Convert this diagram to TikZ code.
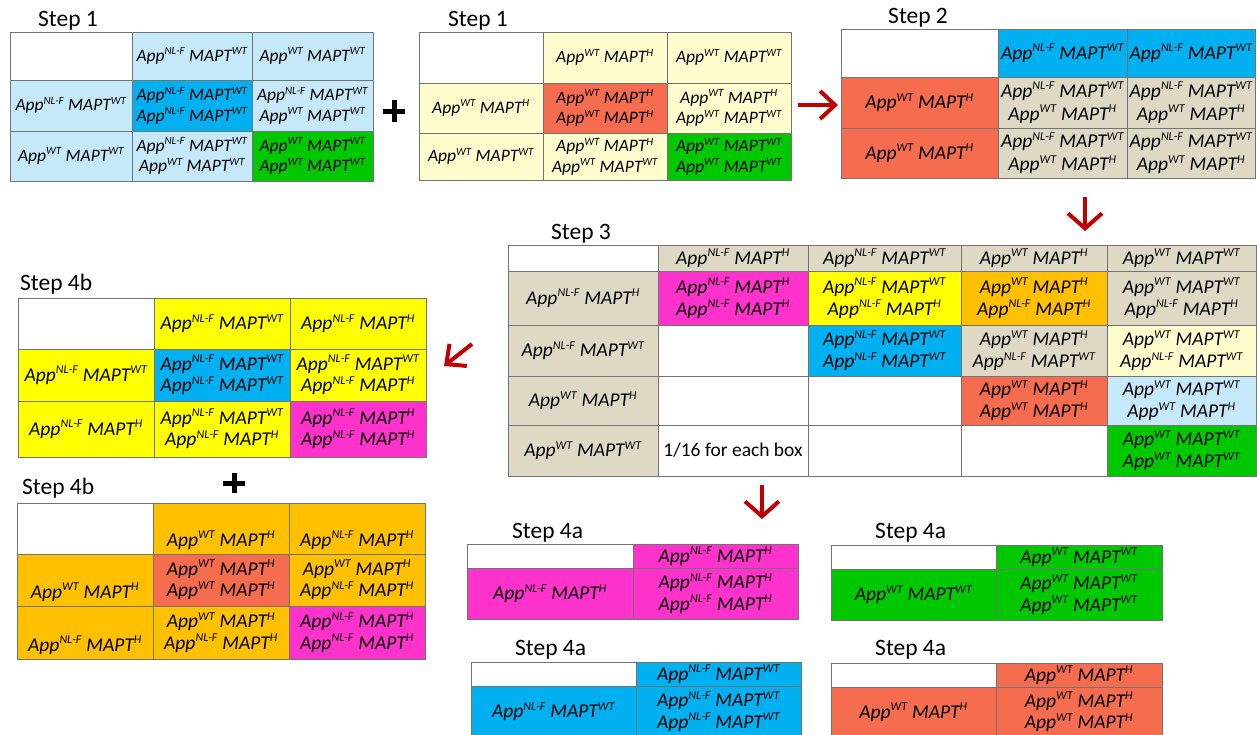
\documentclass[tikz,border=0pt]{standalone}
\usepackage{fontspec}
\setmainfont{Carlito}
\usetikzlibrary{calc,arrows.meta}
\definecolor{lblue}{RGB}{198,233,250}
\definecolor{mblue}{RGB}{0,176,240}
\definecolor{mgreen}{RGB}{0,200,0}
\definecolor{lyel}{RGB}{255,252,206}
\definecolor{csal}{RGB}{245,108,78}
\definecolor{ctan}{RGB}{221,217,196}
\definecolor{cpink}{RGB}{255,51,204}
\definecolor{yel}{RGB}{255,255,0}
\definecolor{orng}{RGB}{255,192,0}
\definecolor{dred}{RGB}{192,0,0}
\definecolor{gline}{RGB}{115,115,115}
\newcommand\fsz{\fontsize{17.5}{20.5}\selectfont}
\newcommand\ssz{\fontsize{11}{11}\selectfont}
\newcommand\sups[1]{\textsuperscript{\ssz #1}}
\newcommand\gen[2]{App\sups{#1} MAPT\sups{#2}}
\newcommand\gcell[7]{\draw[cellb,fill=#6] (#2,#3) rectangle (#4,#5);
  \node[txt] (#1) at ($(#2,#3)!.5!(#4,#5)$) {#7};}
\newcommand\gcellbot[7]{\draw[cellb,fill=#6] (#2,#3) rectangle (#4,#5);
  \node[txt,anchor=base] (#1) at ($(#2,#5)!.5!(#4,#5)+(0,-8)$) {#7};}
\tikzset{
  cellb/.style={draw=gline, line width=1pt},
  txt/.style={align=center, inner sep=0pt, font=\fsz\itshape},
  steplabel/.style={anchor=base west, inner sep=0pt, font=\fontsize{23.5}{27}\selectfont},
  redarrow/.style={draw=dred, line width=4pt, -{Straight Barb[length=15pt,width=28pt]}},
  downarrow/.style={draw=dred, line width=4pt, -{Straight Barb[length=15pt,width=34pt]}},
  plusmark/.style={draw=black, line width=5pt}
}
\begin{document}
\begin{tikzpicture}[x=1pt,y=-1pt]
\useasboundingbox (0,0) rectangle (1257,734);
\clip (0,0) rectangle (1257,734);
\fill[white] (0,0) rectangle (1257,734);

% ---------- Step 1 (left)
\node[steplabel] (l1) at (38,26) {Step 1};
\gcell{g1a}{10}{32}{132}{80}{white}{}
\gcell{g1b}{132}{32}{252}{80}{lblue}{\gen{NL-F}{WT}}
\gcell{g1c}{252}{32}{373}{80}{lblue}{\gen{WT}{WT}}
\gcell{g1d}{10}{80}{132}{131}{lblue}{\gen{NL-F}{WT}}
\gcell{g1e}{132}{80}{252}{131}{mblue}{\gen{NL-F}{WT}\\\gen{NL-F}{WT}}
\gcell{g1f}{252}{80}{373}{131}{lblue}{\gen{NL-F}{WT}\\\gen{WT}{WT}}
\gcell{g1g}{10}{131}{132}{181}{lblue}{\gen{WT}{WT}}
\gcell{g1h}{132}{131}{252}{181}{lblue}{\gen{NL-F}{WT}\\\gen{WT}{WT}}
\gcell{g1i}{252}{131}{373}{181}{mgreen}{\gen{WT}{WT}\\\gen{WT}{WT}}

\coordinate (p1) at (394,111);
\draw[plusmark] ($(p1)+(-11,0)$) -- ($(p1)+(11,0)$) ($(p1)+(0,-11)$) -- ($(p1)+(0,11)$);

% ---------- Step 1 (middle)
\node[steplabel] (l2) at (448,26) {Step 1};
\gcell{g2a}{419}{32}{543}{83}{white}{}
\gcell{g2b}{543}{32}{667}{83}{lyel}{\gen{WT}{H}}
\gcell{g2c}{667}{32}{791}{83}{lyel}{\gen{WT}{WT}}
\gcell{g2d}{419}{83}{543}{133}{lyel}{\gen{WT}{H}}
\gcell{g2e}{543}{83}{667}{133}{csal}{\gen{WT}{H}\\\gen{WT}{H}}
\gcell{g2f}{667}{83}{791}{133}{lyel}{\gen{WT}{H}\\\gen{WT}{WT}}
\gcell{g2g}{419}{133}{543}{180}{lyel}{\gen{WT}{WT}}
\gcell{g2h}{543}{133}{667}{180}{lyel}{\gen{WT}{H}\\\gen{WT}{WT}}
\gcell{g2i}{667}{133}{791}{180}{mgreen}{\gen{WT}{WT}\\\gen{WT}{WT}}

\coordinate (a1s) at (798,105);
\coordinate (a1e) at (838,105);
\draw[redarrow] (a1s) -- (a1e);

% ---------- Step 2
\renewcommand\fsz{\fontsize{19.5}{23}\selectfont}
\renewcommand\ssz{\fontsize{12}{12}\selectfont}
\node[steplabel] (l3) at (888,23) {Step 2};
\gcell{g3a}{841}{29}{998}{77}{white}{}
\gcell{g3b}{998}{29}{1127}{77}{mblue}{\gen{NL-F}{WT}}
\gcell{g3c}{1127}{29}{1255}{77}{mblue}{\gen{NL-F}{WT}}
\gcell{g3d}{841}{77}{998}{128}{csal}{\gen{WT}{H}}
\gcell{g3e}{998}{77}{1127}{128}{ctan}{\gen{NL-F}{WT}\\\gen{WT}{H}}
\gcell{g3f}{1127}{77}{1255}{128}{ctan}{\gen{NL-F}{WT}\\\gen{WT}{H}}
\gcell{g3g}{841}{128}{998}{178}{csal}{\gen{WT}{H}}
\gcell{g3h}{998}{128}{1127}{178}{ctan}{\gen{NL-F}{WT}\\\gen{WT}{H}}
\gcell{g3i}{1127}{128}{1255}{178}{ctan}{\gen{NL-F}{WT}\\\gen{WT}{H}}

\coordinate (a2s) at (1085,197);
\coordinate (a2e) at (1085,231);
\draw[downarrow] (a2s) -- (a2e);

% ---------- Step 3
\renewcommand\fsz{\fontsize{19.5}{22}\selectfont}
\node[steplabel] (l4) at (551,239) {Step 3};
\gcell{g4a}{508}{245}{658}{271}{white}{}
\gcell{g4b}{658}{245}{808}{271}{ctan}{\gen{NL-F}{H}}
\gcell{g4c}{808}{245}{961}{271}{ctan}{\gen{NL-F}{WT}}
\gcell{g4d}{961}{245}{1107}{271}{ctan}{\gen{WT}{H}}
\gcell{g4e}{1107}{245}{1256}{271}{ctan}{\gen{WT}{WT}}
\gcell{g4f}{508}{271}{658}{325}{ctan}{\gen{NL-F}{H}}
\gcell{g4g}{658}{271}{808}{325}{cpink}{\gen{NL-F}{H}\\\gen{NL-F}{H}}
\gcell{g4h}{808}{271}{961}{325}{yel}{\gen{NL-F}{WT}\\\gen{NL-F}{H}}
\gcell{g4i}{961}{271}{1107}{325}{orng}{\gen{WT}{H}\\\gen{NL-F}{H}}
\gcell{g4j}{1107}{271}{1256}{325}{ctan}{\gen{WT}{WT}\\\gen{NL-F}{H}}
\gcell{g4k}{508}{325}{658}{376}{ctan}{\gen{NL-F}{WT}}
\gcell{g4l}{658}{325}{808}{376}{white}{}
\gcell{g4m}{808}{325}{961}{376}{mblue}{\gen{NL-F}{WT}\\\gen{NL-F}{WT}}
\gcell{g4n}{961}{325}{1107}{376}{ctan}{\gen{WT}{H}\\\gen{NL-F}{WT}}
\gcell{g4o}{1107}{325}{1256}{376}{lyel}{\gen{WT}{WT}\\\gen{NL-F}{WT}}
\gcell{g4p}{508}{376}{658}{425}{ctan}{\gen{WT}{H}}
\gcell{g4q}{658}{376}{808}{425}{white}{}
\gcell{g4r}{808}{376}{961}{425}{white}{}
\gcell{g4s}{961}{376}{1107}{425}{csal}{\gen{WT}{H}\\\gen{WT}{H}}
\gcell{g4t}{1107}{376}{1256}{425}{lblue}{\gen{WT}{WT}\\\gen{WT}{H}}
\gcell{g4u}{508}{425}{658}{476}{ctan}{\gen{WT}{WT}}
\gcell{g4v}{658}{425}{808}{476}{white}{\upshape 1/16 for each box}
\gcell{g4w}{808}{425}{961}{476}{white}{}
\gcell{g4x}{961}{425}{1107}{476}{white}{}
\gcell{g4y}{1107}{425}{1256}{476}{mgreen}{\gen{WT}{WT}\\\gen{WT}{WT}}

\coordinate (a3s) at (472,344);
\coordinate (a3e) at (444,366);
\draw[redarrow] (a3s) -- (a3e);
\coordinate (a4s) at (762,485);
\coordinate (a4e) at (762,519);
\draw[downarrow] (a4s) -- (a4e);

% ---------- Step 4b (top)
\renewcommand\fsz{\fontsize{19.5}{21.5}\selectfont}
\node[steplabel] (l5) at (20,290) {Step 4b};
\gcell{g5a}{18}{298}{154}{349}{white}{}
\gcell{g5b}{154}{298}{290}{349}{yel}{\gen{NL-F}{WT}}
\gcell{g5c}{290}{298}{426}{349}{yel}{\gen{NL-F}{H}}
\gcell{g5d}{18}{349}{154}{401}{yel}{\gen{NL-F}{WT}}
\gcell{g5e}{154}{349}{290}{401}{mblue}{\gen{NL-F}{WT}\\\gen{NL-F}{WT}}
\gcell{g5f}{290}{349}{426}{401}{yel}{\gen{NL-F}{WT}\\\gen{NL-F}{H}}
\gcell{g5g}{18}{401}{154}{457}{yel}{\gen{NL-F}{H}}
\gcell{g5h}{154}{401}{290}{457}{yel}{\gen{NL-F}{WT}\\\gen{NL-F}{H}}
\gcell{g5i}{290}{401}{426}{457}{cpink}{\gen{NL-F}{H}\\\gen{NL-F}{H}}

\coordinate (p2) at (234,483);
\draw[plusmark] ($(p2)+(-11,0)$) -- ($(p2)+(11,0)$) ($(p2)+(0,-10)$) -- ($(p2)+(0,10)$);

% ---------- Step 4b (bottom)
\node[steplabel] (l6) at (22,494) {Step 4b};
\gcell{g6a}{17}{503}{153}{554}{white}{}
\gcellbot{g6b}{153}{503}{289}{554}{orng}{\gen{WT}{H}}
\gcellbot{g6c}{289}{503}{425}{554}{orng}{\gen{NL-F}{H}}
\gcellbot{g6d}{17}{554}{153}{606}{orng}{\gen{WT}{H}}
\gcell{g6e}{153}{554}{289}{606}{csal}{\gen{WT}{H}\\\gen{WT}{H}}
\gcell{g6f}{289}{554}{425}{606}{orng}{\gen{WT}{H}\\\gen{NL-F}{H}}
\gcellbot{g6g}{17}{606}{153}{659}{orng}{\gen{NL-F}{H}}
\gcell{g6h}{153}{606}{289}{659}{orng}{\gen{WT}{H}\\\gen{NL-F}{H}}
\gcell{g6i}{289}{606}{425}{659}{cpink}{\gen{NL-F}{H}\\\gen{NL-F}{H}}

% ---------- Step 4a (four small grids)
\node[steplabel] (l7) at (512,538) {Step 4a};
\gcell{g7a}{467}{544}{633}{568}{white}{}
\gcell{g7b}{633}{544}{798}{568}{cpink}{\gen{NL-F}{H}}
\gcell{g7c}{467}{568}{633}{619}{cpink}{\gen{NL-F}{H}}
\gcell{g7d}{633}{568}{798}{619}{cpink}{\gen{NL-F}{H}\\\gen{NL-F}{H}}

\node[steplabel] (l8) at (515,655) {Step 4a};
\gcell{g8a}{471}{662}{636}{686}{white}{}
\gcell{g8b}{636}{662}{801}{686}{mblue}{\gen{NL-F}{WT}}
\gcell{g8c}{471}{686}{636}{737}{mblue}{\gen{NL-F}{WT}}
\gcell{g8d}{636}{686}{801}{737}{mblue}{\gen{NL-F}{WT}\\\gen{NL-F}{WT}}

\node[steplabel] (l9) at (875,538) {Step 4a};
\gcell{g9a}{831}{545}{996}{569}{white}{}
\gcell{g9b}{996}{545}{1162}{569}{mgreen}{\gen{WT}{WT}}
\gcell{g9c}{831}{569}{996}{620}{mgreen}{\gen{WT}{WT}}
\gcell{g9d}{996}{569}{1162}{620}{mgreen}{\gen{WT}{WT}\\\gen{WT}{WT}}

\node[steplabel] (l10) at (875,655) {Step 4a};
\gcell{g10a}{831}{663}{996}{687}{white}{}
\gcell{g10b}{996}{663}{1162}{687}{csal}{\gen{WT}{H}}
\gcell{g10c}{831}{687}{996}{737}{csal}{\gen{WT}{H}}
\gcell{g10d}{996}{687}{1162}{737}{csal}{\gen{WT}{H}\\\gen{WT}{H}}
\end{tikzpicture}
\end{document}
